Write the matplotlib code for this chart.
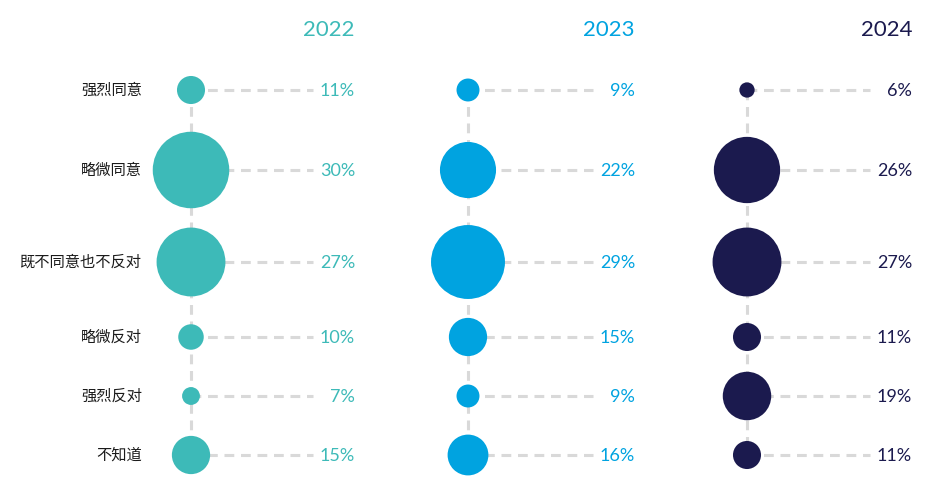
import matplotlib
matplotlib.use("Agg")
import matplotlib.pyplot as plt

plt.rcParams['font.family'] = ['Lato', 'Noto Sans CJK SC', 'DejaVu Sans']

# data
categories = ['强烈同意', '略微同意', '既不同意也不反对', '略微反对', '强烈反对', '不知道']
years = ['2022', '2023', '2024']
vals_2022 = [11, 30, 27, 10, 7, 15]
vals_2023 = [9, 22, 29, 15, 9, 16]
vals_2024 = [6, 26, 27, 11, 19, 11]
colors = ['#3DBAB8', '#00A3E0', '#1B1A4E']

# layout (pixels)
W, H = 951, 500
row_y = [90, 170, 262, 337, 396, 455]
col_x = [191, 468, 747]
label_x = [355, 635, 912]
cat_x = 142
px_per_pct = 2.55

fig = plt.figure(figsize=(W / 100, H / 100), dpi=100)
ax = fig.add_axes([0, 0, 1, 1])
ax.set_xlim(0, W)
ax.set_ylim(H, 0)
ax.axis('off')

grey = '#D9D9D9'
dash = dict(color=grey, lw=2.2, dashes=(3.2, 2.2), zorder=1, solid_capstyle='butt')

for cat, y in zip(categories, row_y):
    ax.text(cat_x, y, cat, ha='right', va='center', fontsize=11,
            color='#1a1a1a', family=['Noto Sans CJK SC', 'DejaVu Sans'])

for vals, year, col, cx, lx in zip([vals_2022, vals_2023, vals_2024], years, colors, col_x, label_x):
    ax.plot([cx, cx], [row_y[0], row_y[-1]], **dash)
    for v, y in zip(vals, row_y):
        ax.plot([cx, lx - 42], [y, y], **dash)
        ax.text(lx, y + 1, f'{v}%', ha='right', va='center', fontsize=13, color=col)
    sizes = [(v * px_per_pct * 0.72) ** 2 for v in vals]
    ax.scatter([cx] * len(vals), row_y, s=sizes, color=col, zorder=3, linewidths=0)
    ax.text(lx, 30, year, ha='right', va='center', fontsize=16, color=col)

fig.savefig('out.png', dpi=100)
